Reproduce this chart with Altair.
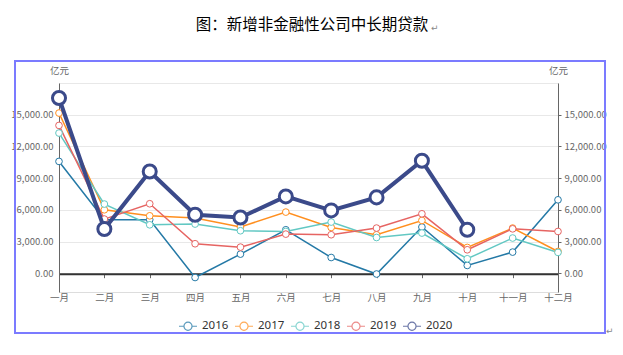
import altair as alt
import pandas as pd

months = ["一月", "二月", "三月", "四月", "五月", "六月", "七月", "八月", "九月", "十月", "十一月", "十二月"]
years = ["2016", "2017", "2018", "2019", "2020"]
v2016 = [10590, 5080, 5080, -380, 1830, 4130, 1510, -50, 4390, 760, 2020, 6960]
v2017 = [15160, 6020, 5450, 5240, 4390, 5800, 4350, 3660, 5010, 2460, 4290, 2080]
v2018 = [13270, 6560, 4600, 4670, 4040, 3970, 4860, 3400, 3820, 1390, 3350, 1990]
v2019 = [13990, 5140, 6590, 2810, 2490, 3720, 3660, 4290, 5640, 2240, 4220, 3970]
v2020 = [16580, 4200, 9640, 5550, 5290, 7280, 5960, 7190, 10650, 4130]
colors = ["#2479a6", "#ff8f1f", "#62c8c3", "#e66462", "#3b4a8a"]
title_text = "图：新增非金融性公司中长期贷款"
unit = "亿元"

rows = []
for y, vals in zip(years, [v2016, v2017, v2018, v2019, v2020]):
    for m, v in zip(months, vals):
        rows.append({"month": m, "year": y, "value": v})
df = pd.DataFrame(rows)
df_other = df[df.year != "2020"]
df_2020 = df[df.year == "2020"]

FONT = "Noto Sans CJK SC"
ydom = [-1750, 18000]
xscale = alt.Scale(type="point", domain=months, padding=0)
cscale = alt.Scale(domain=years, range=colors)
legend = alt.Legend(
    orient="none", legendX=119, legendY=233, direction="horizontal", columns=5,
    title=None, symbolType="M-1,0L-0.45,0M0.45,0L1,0M0.45,0A0.45,0.45,0,1,1,-0.45,0A0.45,0.45,0,1,1,0.45,0",
    symbolSize=324, symbolFillColor="white", symbolStrokeWidth=1.2, symbolOpacity=0.75,
    labelFont="Noto Sans", labelFontSize=11.5, labelColor="#333", labelOffset=4,
    columnPadding=3, padding=0,
)

left_axis = alt.Axis(
    orient="left", values=[0, 3000, 6000, 9000, 12000, 15000, 18000],
    labelExpr="datum.value > 16000 ? '' : format(datum.value, ',.2f')",
    labelFont=FONT, labelFontSize=9.5, labelColor="#666", labelPadding=6,
    domainColor="#666", domainWidth=1, ticks=False,
    grid=True, gridColor="#e8e8e8", gridWidth=1,
    title=unit, titleAngle=0, titleX=0, titleY=-8, titleAlign="center",
    titleFont=FONT, titleFontSize=9.5, titleFontWeight="normal", titleColor="#666",
)
right_axis = alt.Axis(
    orient="right", values=[0, 3000, 6000, 9000, 12000, 15000],
    format=",.2f",
    labelFont=FONT, labelFontSize=9.5, labelColor="#666", labelPadding=3,
    domainColor="#666", domainWidth=1, ticks=True, tickSize=3, tickColor="#666",
    grid=False,
    title=unit, titleAngle=0, titleX=0, titleY=-8, titleAlign="center",
    titleFont=FONT, titleFontSize=9.5, titleFontWeight="normal", titleColor="#666",
)
x_axis = alt.Axis(
    orient="bottom", offset=-18.3, domainColor="#333", domainWidth=2,
    tickColor="#666", tickSize=4, labelPadding=15, labelAngle=0,
    labelFont=FONT, labelFontSize=9.5, labelColor="#666", grid=False, title=None,
)
yscale = alt.Scale(domain=ydom, nice=False, zero=False)
X = alt.X("month:N", scale=xscale, axis=x_axis, sort=months)
C = alt.Color("year:N", scale=cscale, legend=legend)

lines_other = alt.Chart(df_other).mark_line(strokeWidth=1.5).encode(
    x=X, y=alt.Y("value:Q", scale=yscale, axis=left_axis), color=C, detail="year:N",
)
points_other = alt.Chart(df_other).mark_point(
    filled=False, fill="white", fillOpacity=1, opacity=1, size=45, strokeWidth=1
).encode(x=X, y=alt.Y("value:Q", scale=yscale, axis=None), color=C)
line_2020 = alt.Chart(df_2020).mark_line(strokeWidth=4).encode(
    x=X, y=alt.Y("value:Q", scale=yscale, axis=right_axis), color=C,
)
points_2020 = alt.Chart(df_2020).mark_point(
    filled=False, fill="white", fillOpacity=1, opacity=1, size=170, strokeWidth=3
).encode(x=X, y=alt.Y("value:Q", scale=yscale, axis=None), color=C)

one = pd.DataFrame({"a": [0]})
border = alt.Chart(one).mark_rect(fill=None, stroke="#7b7bff", strokeWidth=2).encode(
    x=alt.value(-44), x2=alt.value(546), y=alt.value(-22), y2=alt.value(250)
)
title = alt.Chart(one).mark_text(
    font=FONT, fontSize=15.5, color="#000", align="center", baseline="middle"
).encode(x=alt.value(253), y=alt.value(-58), text=alt.value(title_text))
mark1 = alt.Chart(one).mark_text(
    font="DejaVu Sans", fontSize=9, color="#888", align="left", baseline="middle"
).encode(x=alt.value(372), y=alt.value(-55), text=alt.value("↵"))
mark2 = alt.Chart(one).mark_text(
    font="DejaVu Sans", fontSize=9, color="#888", align="left", baseline="middle"
).encode(x=alt.value(547), y=alt.value(248), text=alt.value("↵"))

chart = alt.layer(
    lines_other, points_other, line_2020, points_2020, border, title, mark1, mark2
).resolve_scale(y="independent").properties(
    width=499, height=209,
    autosize=alt.AutoSizeParams(type="none"),
    padding={"left": 59, "top": 83, "right": 65, "bottom": 63},
).configure_view(stroke=None).configure(background="white")

chart.save("out.html", embed_options={"renderer": "svg", "actions": False})
